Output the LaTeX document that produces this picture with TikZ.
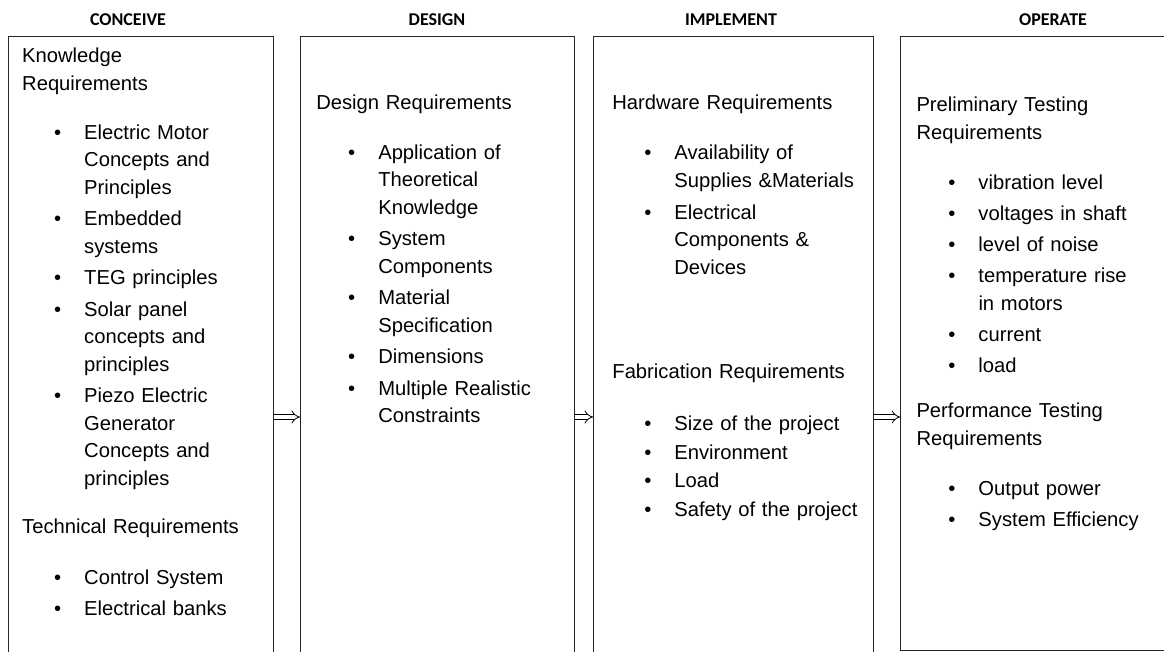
\documentclass[tikz,border=0pt]{standalone}
\usepackage{fontspec}
\setmainfont{Liberation Sans}
\newfontfamily\headfont{Carlito}
\usepackage{tikz}
\usetikzlibrary{positioning}
\usetikzlibrary{arrows.meta}

\newlength{\itmsep}
\newcommand{\itm}[1]{\par\vspace{\itmsep}{\leftskip=62pt\noindent\llap{\textbullet\hspace{23pt}}#1\par}}
\newcommand{\skipby}[1]{\par\vspace{#1}}

\tikzset{
    cdio diagram/.style={
            x=1pt,y=1pt,
            phase/.style={draw=black!85, line width=1.1pt, inner sep=0pt, anchor=north west},
            stage/.style={font=\headfont\bfseries\fontsize{18}{21}\selectfont},
            content/.style={anchor=base west, inner sep=0pt, text width=250pt, align=left,
                    font=\fontsize{20.2}{27.5}\selectfont},
            flow/.style={double=white, double distance=3.8pt, line width=0.8pt, -{Implies}}
        }
    }

\begin{document}
\begin{tikzpicture}[cdio diagram]
        \useasboundingbox (0,0) rectangle (1164,651);
        % phase boxes
        \node[phase, minimum width=265pt, minimum height=635pt] (conceive) at (8,615) {};
        \node[phase, minimum width=274pt, minimum height=635pt, right=26pt of conceive.north east, anchor=north west] (design) {};
        \node[phase, minimum width=280pt, minimum height=635pt, right=18pt of design.north east, anchor=north west] (implement) {};
        \node[phase, minimum width=300pt, minimum height=614pt, right=26pt of implement.north east, anchor=north west] (operate) {};
        % headings
        \node[stage] (conceivehead) at (128,631) {CONCEIVE};
        \node[stage] (designhead) at (437,631) {DESIGN};
        \node[stage] (implementhead) at (731,631) {IMPLEMENT};
        \node[stage] (operatehead) at (1053,631) {OPERATE};
        % box contents
        \node[content] (conceivetext) at ([shift={(14pt,-27pt)}]conceive.north west) {%
            \setlength{\itmsep}{4pt}%
            Knowledge\\Requirements
            \skipby{17.5pt}
            \itm{Electric Motor\\Concepts and\\Principles}
            \itm{Embedded\\systems}
            \itm{TEG principles}
            \itm{Solar panel\\concepts and\\principles}
            \itm{Piezo Electric\\Generator\\Concepts and\\principles}
            \skipby{20.5pt}
            Technical Requirements
            \skipby{19.5pt}
            \itm{Control System}
            \itm{Electrical banks}};
        \node[content] (designtext) at ([shift={(16pt,-74pt)}]design.north west) {%
            \setlength{\itmsep}{4pt}%
            Design Requirements
            \skipby{18pt}
            \itm{Application of\\Theoretical\\Knowledge}
            \itm{System\\Components}
            \itm{Material\\Specification}
            \itm{Dimensions}
            \itm{Multiple Realistic\\Constraints}};
        \node[content] (implementtext) at ([shift={(19pt,-74pt)}]implement.north west) {%
            \setlength{\itmsep}{4.5pt}%
            Hardware Requirements
            \skipby{18pt}
            \itm{Availability of\\Supplies \&Materials}
            \itm{Electrical\\Components \&\\Devices}
            \skipby{76.5pt}
            Fabrication Requirements
            \setlength{\itmsep}{1pt}%
            \skipby{24pt}
            \itm{Size of the project}
            \itm{Environment}
            \itm{Load}
            \itm{Safety of the project}};
        \node[content] (operatetext) at ([shift={(16pt,-76pt)}]operate.north west) {%
            \setlength{\itmsep}{3.6pt}%
            Preliminary Testing\\Requirements
            \skipby{19pt}
            \itm{vibration level}
            \itm{voltages in shaft}
            \itm{level of noise}
            \itm{temperature rise\\in motors}
            \itm{current}
            \itm{load}
            \skipby{17.5pt}
            Performance Testing\\Requirements
            \skipby{19pt}
            \itm{Output power}
            \itm{System Efficiency}};
        % arrows between phases
        \coordinate (flowrow) at (0,234);
        \draw[flow] (conceive.east |- flowrow) -- (design.west |- flowrow);
        \draw[flow] (design.east |- flowrow) -- (implement.west |- flowrow);
        \draw[flow] (implement.east |- flowrow) -- (operate.west |- flowrow);
    \end{tikzpicture}
\end{document}
